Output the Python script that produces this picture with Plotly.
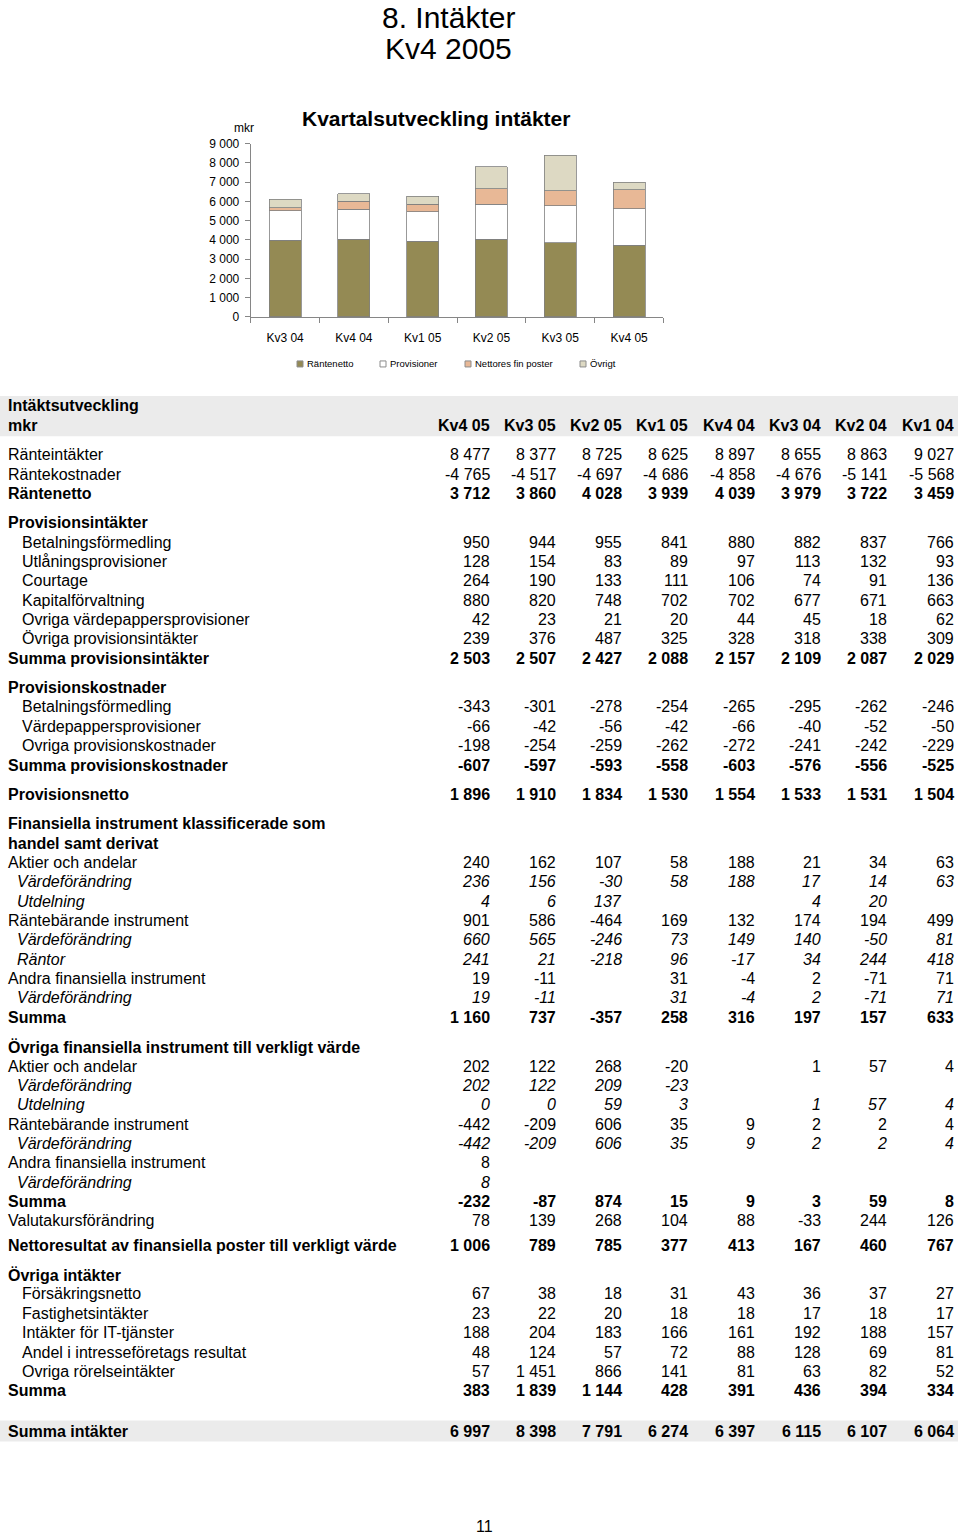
import plotly.graph_objects as go

# --- chart data (mkr) ---
chart_quarters = ["Kv3 04", "Kv4 04", "Kv1 05", "Kv2 05", "Kv3 05", "Kv4 05"]
rantenetto = [3979, 4039, 3939, 4028, 3860, 3712]
provisioner = [1533, 1554, 1530, 1834, 1910, 1896]
nettores_fin = [167, 413, 377, 785, 789, 1006]
ovrigt = [436, 391, 428, 1144, 1839, 383]

# --- table data (mkr) ---
table_quarters = ["Kv4 05", "Kv3 05", "Kv2 05", "Kv1 05", "Kv4 04", "Kv3 04", "Kv2 04", "Kv1 04"]

header_rows = [
    ("Intäktsutveckling", "heading", None),
    ("mkr", "header", table_quarters),
]
ranta_rows = [
    ("Ränteintäkter", "plain", [8477, 8377, 8725, 8625, 8897, 8655, 8863, 9027]),
    ("Räntekostnader", "plain", [-4765, -4517, -4697, -4686, -4858, -4676, -5141, -5568]),
    ("Räntenetto", "bold", [3712, 3860, 4028, 3939, 4039, 3979, 3722, 3459]),
]
prov_intakter_rows = [
    ("Provisionsintäkter", "heading", None),
    ("Betalningsförmedling", "indent", [950, 944, 955, 841, 880, 882, 837, 766]),
    ("Utlåningsprovisioner", "indent", [128, 154, 83, 89, 97, 113, 132, 93]),
    ("Courtage", "indent", [264, 190, 133, 111, 106, 74, 91, 136]),
    ("Kapitalförvaltning", "indent", [880, 820, 748, 702, 702, 677, 671, 663]),
    ("Ovriga värdepappersprovisioner", "indent", [42, 23, 21, 20, 44, 45, 18, 62]),
    ("Övriga provisionsintäkter", "indent", [239, 376, 487, 325, 328, 318, 338, 309]),
    ("Summa provisionsintäkter", "bold", [2503, 2507, 2427, 2088, 2157, 2109, 2087, 2029]),
]
prov_kostnader_rows = [
    ("Provisionskostnader", "heading", None),
    ("Betalningsförmedling", "indent", [-343, -301, -278, -254, -265, -295, -262, -246]),
    ("Värdepappersprovisioner", "indent", [-66, -42, -56, -42, -66, -40, -52, -50]),
    ("Ovriga provisionskostnader", "indent", [-198, -254, -259, -262, -272, -241, -242, -229]),
    ("Summa provisionskostnader", "bold", [-607, -597, -593, -558, -603, -576, -556, -525]),
]
prov_netto_rows = [
    ("Provisionsnetto", "bold", [1896, 1910, 1834, 1530, 1554, 1533, 1531, 1504]),
]
fin_handel_rows = [
    ("Finansiella instrument klassificerade som", "heading", None),
    ("handel samt derivat", "heading", None),
    ("Aktier och andelar", "plain", [240, 162, 107, 58, 188, 21, 34, 63]),
    ("Värdeförändring", "italic", [236, 156, -30, 58, 188, 17, 14, 63]),
    ("Utdelning", "italic", [4, 6, 137, None, None, 4, 20, None]),
    ("Räntebärande instrument", "plain", [901, 586, -464, 169, 132, 174, 194, 499]),
    ("Värdeförändring", "italic", [660, 565, -246, 73, 149, 140, -50, 81]),
    ("Räntor", "italic", [241, 21, -218, 96, -17, 34, 244, 418]),
    ("Andra finansiella instrument", "plain", [19, -11, None, 31, -4, 2, -71, 71]),
    ("Värdeförändring", "italic", [19, -11, None, 31, -4, 2, -71, 71]),
    ("Summa", "bold", [1160, 737, -357, 258, 316, 197, 157, 633]),
]
fin_verkligt_rows = [
    ("Övriga finansiella instrument till verkligt värde", "heading", None),
    ("Aktier och andelar", "plain", [202, 122, 268, -20, None, 1, 57, 4]),
    ("Värdeförändring", "italic", [202, 122, 209, -23, None, None, None, None]),
    ("Utdelning", "italic", [0, 0, 59, 3, None, 1, 57, 4]),
    ("Räntebärande instrument", "plain", [-442, -209, 606, 35, 9, 2, 2, 4]),
    ("Värdeförändring", "italic", [-442, -209, 606, 35, 9, 2, 2, 4]),
    ("Andra finansiella instrument", "plain", [8, None, None, None, None, None, None, None]),
    ("Värdeförändring", "italic", [8, None, None, None, None, None, None, None]),
    ("Summa", "bold", [-232, -87, 874, 15, 9, 3, 59, 8]),
    ("Valutakursförändring", "plain", [78, 139, 268, 104, 88, -33, 244, 126]),
]
netto_rows = [
    ("Nettoresultat av finansiella poster till verkligt värde", "bold",
     [1006, 789, 785, 377, 413, 167, 460, 767]),
]
ovriga_intakter_rows = [
    ("Övriga intäkter", "heading", None),
    ("Försäkringsnetto", "indent", [67, 38, 18, 31, 43, 36, 37, 27]),
    ("Fastighetsintäkter", "indent", [23, 22, 20, 18, 18, 17, 18, 17]),
    ("Intäkter för IT-tjänster", "indent", [188, 204, 183, 166, 161, 192, 188, 157]),
    ("Andel i intresseföretags resultat", "indent", [48, 124, 57, 72, 88, 128, 69, 81]),
    ("Ovriga rörelseintäkter", "indent", [57, 1451, 866, 141, 81, 63, 82, 52]),
    ("Summa", "bold", [383, 1839, 1144, 428, 391, 436, 394, 334]),
]
summa_rows = [
    ("Summa intäkter", "bold", [6997, 8398, 7791, 6274, 6397, 6115, 6107, 6064]),
]

sections = [header_rows, ranta_rows, prov_intakter_rows, prov_kostnader_rows, prov_netto_rows,
            fin_handel_rows, fin_verkligt_rows, netto_rows, ovriga_intakter_rows, summa_rows]

# --- layout settings ---
W, H = 960, 1534
# vertical positions below are measured page pixels; they map onto the figure as
# fig_y = (px - Y_OFF) / Y_SCALE
Y_OFF, Y_SCALE = 6, 0.991
FONT = "Liberation Sans, Arial, sans-serif"
section_gaps = [10, 10, 10, 10, 10, 10, 5, 10, 21]
row_step = 19.36
first_row_y = 405
col_right = [491.5 + 66.3 * i for i in range(len(table_quarters))]
label_x = {"heading": 6, "header": 6, "bold": 6, "plain": 6, "indent": 20, "italic": 15}
band_color = "#EBEBEB"
legend_sq_x = [300, 383, 468, 583]  # legend square centres, px
legend_y = 363


def py(px):
    """measured page pixel -> paper y"""
    return 1 - (px - Y_OFF) / Y_SCALE / H


def fmt(v):
    if v is None:
        return ""
    if isinstance(v, str):
        return v
    return f"{v:,}".replace(",", " ")


def styled(text, style):
    if not text:
        return ""
    if style in ("heading", "header", "bold"):
        return f"<b>{text}</b>"
    if style == "italic":
        return f"<i>{text}</i>"
    return text


fig = go.Figure()

series = [("Räntenetto", rantenetto, "#948A54"), ("Provisioner", provisioner, "#FFFFFF"),
          ("Nettores fin poster", nettores_fin, "#E8B896"), ("Övrigt", ovrigt, "#DDD9C3")]
for name, vals, color in series:
    fig.add_trace(go.Bar(
        x=chart_quarters, y=vals, name=name, showlegend=False,
        marker={"color": color, "line": {"color": "#7F7F7F", "width": 0.8}},
    ))

# empty trace so the table axes exist
fig.add_trace(go.Scatter(x=[], y=[], xaxis="x2", yaxis="y2", showlegend=False, hoverinfo="skip"))

annotations = []
shapes = []
y = first_row_y
row_y = {}
for s_idx, rows in enumerate(sections):
    for r_idx, (label, style, values) in enumerate(rows):
        annotations.append(dict(
            x=label_x[style], y=y, xref="x2", yref="y2", xanchor="left", yanchor="middle",
            text=styled(label, style), showarrow=False, font={"size": 16, "family": FONT, "color": "black"},
        ))
        if values is not None:
            for c, v in enumerate(values):
                t = fmt(v)
                if not t:
                    continue
                annotations.append(dict(
                    x=col_right[c], y=y, xref="x2", yref="y2", xanchor="right", yanchor="middle",
                    text=styled(t, style), showarrow=False,
                    font={"size": 16, "family": FONT, "color": "black"},
                ))
        row_y[(s_idx, r_idx)] = y
        y += row_step
    if s_idx < len(section_gaps):
        y += section_gaps[s_idx]

# grey bands behind the header and the grand total
shapes.append(dict(type="rect", xref="x2", yref="y2", x0=0, x1=958,
                   y0=row_y[(0, 0)] - 10, y1=row_y[(0, 1)] + 11,
                   fillcolor=band_color, line={"width": 0}, layer="below"))
last = len(sections) - 1
shapes.append(dict(type="rect", xref="x2", yref="y2", x0=0, x1=958,
                   y0=row_y[(last, 0)] - 10.5, y1=row_y[(last, 0)] + 10.5,
                   fillcolor=band_color, line={"width": 0}, layer="below"))

# compact legend (small squares, text right next to them)
for (name, _, color), sx in zip(series, legend_sq_x):
    shapes.append(dict(type="rect", xref="x2", yref="y2", x0=sx - 3, x1=sx + 3,
                       y0=legend_y - 3, y1=legend_y + 3, fillcolor=color,
                       line={"color": "#8C8C8C", "width": 1}))
    annotations.append(dict(x=sx + 5, y=legend_y, xref="x2", yref="y2", xanchor="left", yanchor="middle",
                            text=name, showarrow=False, font={"size": 9.5, "family": FONT, "color": "black"}))

# page titles and chart texts
annotations += [
    dict(x=448 / W, y=py(17), xref="paper", yref="paper", text="8. Intäkter", showarrow=False,
         font={"size": 30, "family": FONT, "color": "black"}, xanchor="center", yanchor="middle"),
    dict(x=448 / W, y=py(48), xref="paper", yref="paper", text="Kv4 2005", showarrow=False,
         font={"size": 30, "family": FONT, "color": "black"}, xanchor="center", yanchor="middle"),
    dict(x=436 / W, y=py(118), xref="paper", yref="paper", text="<b>Kvartalsutveckling intäkter</b>",
         showarrow=False, font={"size": 21, "family": FONT, "color": "black"},
         xanchor="center", yanchor="middle"),
    dict(x=256 / W, y=py(127), xref="paper", yref="paper", text="mkr", showarrow=False,
         font={"size": 12, "family": FONT, "color": "black"}, xanchor="right", yanchor="middle"),
    dict(x=484 / W, y=py(1526), xref="paper", yref="paper", text="11", showarrow=False,
         font={"size": 16, "family": FONT, "color": "black"}, xanchor="center", yanchor="middle"),
]

fig.update_layout(
    width=W, height=H,
    margin={"l": 0, "r": 0, "t": 0, "b": 0},
    paper_bgcolor="white", plot_bgcolor="rgba(0,0,0,0)",
    barmode="stack", bargap=0.535,
    separators=", ",
    font={"family": FONT, "color": "black"},
    showlegend=False,
    xaxis={"domain": [0.2611, 0.6911], "anchor": "y", "type": "category",
           "showline": True, "linecolor": "#868686", "linewidth": 1,
           "ticks": "outside", "tickson": "boundaries", "ticklen": 5, "tickcolor": "#868686",
           "ticklabelstandoff": 10,
           "tickfont": {"size": 12, "family": FONT, "color": "black"}, "showgrid": False},
    yaxis={"domain": [py(316), py(142.7)], "anchor": "x", "range": [0, 9000], "dtick": 1000,
           "tickformat": ",d", "showline": True, "linecolor": "#868686", "linewidth": 1,
           "ticks": "outside", "ticklen": 5, "tickcolor": "#868686", "showgrid": False, "zeroline": False,
           "ticklabelstandoff": 3,
           "tickfont": {"size": 12, "family": FONT, "color": "black"}},
    xaxis2={"domain": [0, 1], "anchor": "y2", "range": [0, W], "visible": False, "fixedrange": True},
    yaxis2={"domain": [0, 1], "anchor": "x2", "range": [Y_OFF + Y_SCALE * H, Y_OFF],
            "visible": False, "fixedrange": True},
    annotations=annotations,
    shapes=shapes,
)

# drop the default 8px body margin so the page is just the figure
fig.write_html("out.html", config={"displayModeBar": False},
               post_script="document.body.style.margin='0';")
